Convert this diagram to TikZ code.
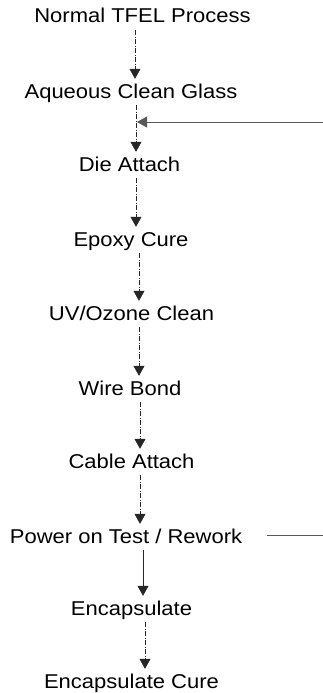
\documentclass[tikz,border=0pt]{standalone}
\usepackage{fontspec}
\setmainfont{Liberation Sans}[FakeStretch=1.1]
\usetikzlibrary{arrows.meta}
\newcommand{\stagefont}{\fontsize{20}{24}\selectfont}

\begin{document}
\begin{tikzpicture}[x=1pt, y=-1pt, font=\stagefont,
  stage/.style={anchor=base, inner sep=0pt, text height=15pt, text depth=0pt},
  flow/.style={-{Triangle[width=11pt,length=10pt]}, line width=0.7pt, black!85,
    dash pattern=on 5pt off 1.5pt on 1pt off 1.5pt, shorten <=7pt, shorten >=4pt},
  solidflow/.style={flow, solid},
  loopline/.style={line width=0.8pt, black!65}]
\useasboundingbox (0,0) rectangle (323,693);
\node[stage] (normal) at (142.5,23) {Normal TFEL Process};
\node[stage] (aqueous) at (131,98) {Aqueous Clean Glass};
\node[stage] (die) at (129.5,171) {Die Attach};
\node[stage] (epoxy) at (131,246) {Epoxy Cure};
\node[stage] (uvozone) at (131.5,320) {UV/Ozone Clean};
\node[stage] (wire) at (130,395) {Wire Bond};
\node[stage] (cable) at (131.5,468) {Cable Attach};
\node[stage] (power) at (126,543) {Power on Test / Rework};
\node[stage] (encap) at (131.5,615) {Encapsulate};
\node[stage] (cure) at (131.5,688) {Encapsulate Cure};

% main flow
\draw[flow] ([xshift=-7.5pt]normal.south) -- ([xshift=4pt]aqueous.north);
\draw[flow] ([xshift=5pt]aqueous.south) -- ([xshift=6.5pt]die.north);
\draw[flow] ([xshift=6.5pt]die.south) -- ([xshift=5pt]epoxy.north);
\draw[flow] ([xshift=8pt]epoxy.south) -- ([xshift=7.5pt]uvozone.north);
\draw[flow] ([xshift=7.5pt]uvozone.south) -- ([xshift=9pt]wire.north);
\draw[flow] ([xshift=10pt]wire.south) -- ([xshift=8.5pt]cable.north);
\draw[flow] ([xshift=8.5pt]cable.south) -- ([xshift=14pt]power.north);
\draw[solidflow] ([xshift=17pt]power.south) -- ([xshift=11.5pt]encap.north);
\draw[flow] ([xshift=13.5pt]encap.south) -- ([xshift=13.5pt]cure.north);

% rework loop
\coordinate (loopin) at (323,122);
\coordinate (join) at (137,122);
\coordinate (loopout) at (323,535.5);
\draw[loopline, -{Triangle[width=11pt,length=10pt]}] (loopin) -- (join);
\draw[loopline] ([xshift=25pt]power.east) -- (loopout);
\end{tikzpicture}
\end{document}
